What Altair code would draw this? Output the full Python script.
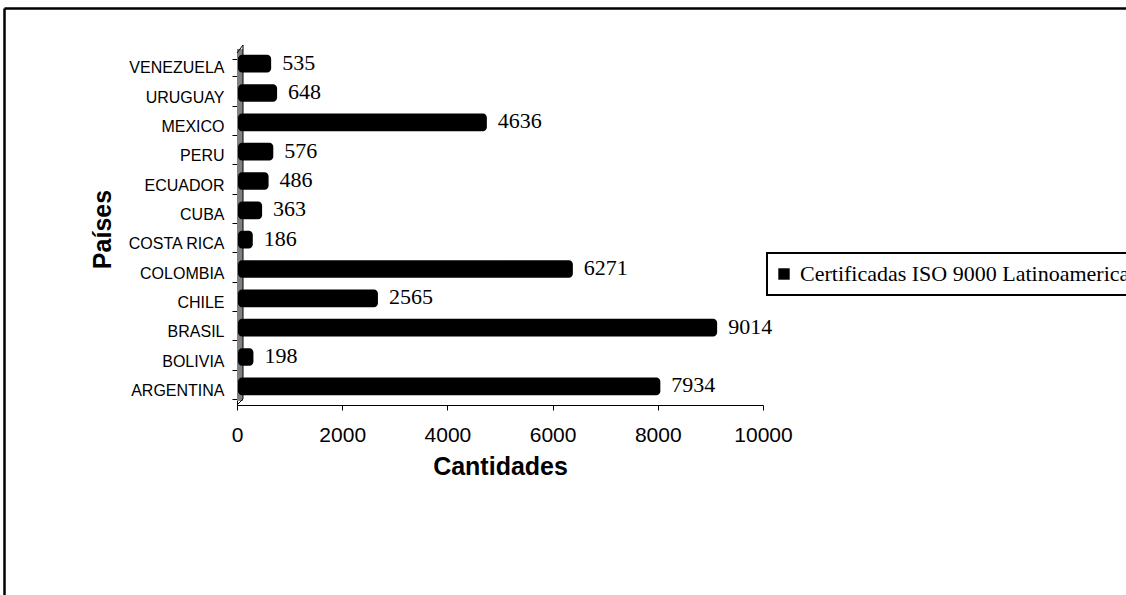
import altair as alt
import pandas as pd

countries = ["VENEZUELA", "URUGUAY", "MEXICO", "PERU", "ECUADOR", "CUBA",
             "COSTA RICA", "COLOMBIA", "CHILE", "BRASIL", "BOLIVIA", "ARGENTINA"]
values = [535, 648, 4636, 576, 486, 363, 186, 6271, 2565, 9014, 198, 7934]
series_name = "Certificadas ISO 9000 Latinoamerica"
x_ticks = [0, 2000, 4000, 6000, 8000, 10000]

df = pd.DataFrame({"pais": countries, "valor": values, "serie": series_name})
one = pd.DataFrame({"a": [0]})

W, H = 526, 352

y_enc = alt.Y(
    "pais:N", sort=countries,
    scale=alt.Scale(paddingInner=0.40, paddingOuter=0.20),
    axis=alt.Axis(title="Países", titleFont="Liberation Sans", titleFontSize=25,
                  titleFontWeight="bold", titleColor="black", titlePadding=12,
                  labelFont="Liberation Sans", labelFontSize=16, labelColor="black",
                  labelPadding=8, tickSize=5, tickColor="black", tickBand="extent",
                  domainColor="black", grid=False),
)
x_enc = alt.X(
    "valor:Q",
    scale=alt.Scale(domain=[0, 10000], nice=False),
    axis=alt.Axis(values=x_ticks, format="d", title="Cantidades",
                  titleFont="Liberation Sans", titleFontSize=25, titleFontWeight="bold",
                  titleColor="black", titlePadding=9, labelFlush=False,
                  labelFont="Liberation Sans", labelFontSize=21, labelColor="black",
                  labelPadding=14, tickSize=5, tickColor="black",
                  domainColor="black", grid=False),
)

wall = alt.Chart(one).mark_rect(color="#808080").encode(
    x=alt.value(0), x2=alt.value(6), y=alt.value(-4), y2=alt.value(348))
wall_back = alt.Chart(one).mark_rule(color="black", strokeWidth=1).encode(
    x=alt.value(6), y=alt.value(-8), y2=alt.value(346))
wall_top = alt.Chart(one).mark_rule(color="black", strokeWidth=1).encode(
    x=alt.value(0), x2=alt.value(6), y=alt.value(0), y2=alt.value(-8))
wall_bot = alt.Chart(one).mark_rule(color="black", strokeWidth=1).encode(
    x=alt.value(0), x2=alt.value(6), y=alt.value(352), y2=alt.value(346))

bars = alt.Chart(df).mark_bar(cornerRadiusEnd=4, xOffset=6, x2Offset=1, yOffset=-4).encode(
    x=x_enc,
    x2=alt.X2(datum=0),
    y=y_enc,
    color=alt.Color("serie:N", scale=alt.Scale(range=["black"]),
                    legend=alt.Legend(title=None, orient="none", legendX=530, legendY=200,
                                      symbolType="square", symbolSize=130,
                                      symbolStrokeWidth=0, symbolOffset=-4,
                                      labelFont="Liberation Serif", labelFontSize=22,
                                      labelColor="black", labelLimit=2000,
                                      strokeColor="black", fillColor="white",
                                      padding=10, labelOffset=5)),
)

labels = alt.Chart(df).mark_text(align="left", baseline="middle", dx=17, dy=-5,
                                 font="Liberation Serif", fontSize=22, color="black").encode(
    x="valor:Q", y=alt.Y("pais:N", sort=countries), text="valor:Q")

frame_left = alt.Chart(one).mark_rule(color="black", strokeWidth=2.5).encode(
    x=alt.value(-232.5), y=alt.value(-44.5), y2=alt.value(560))
frame_top = alt.Chart(one).mark_rule(color="black", strokeWidth=2.5).encode(
    x=alt.value(-232.5), x2=alt.value(900), y=alt.value(-44.5))

chart = alt.layer(wall, wall_back, wall_top, wall_bot, bars, labels, frame_left, frame_top).properties(
    width=W, height=H,
    autosize=alt.AutoSizeParams(type="none"),
    padding={"left": 237, "top": 53, "right": 363, "bottom": 190},
    background="white",
).configure_view(stroke=None).configure_legend(strokeWidth=2)

chart.save("out.html", embed_options={"renderer": "svg", "actions": False})
